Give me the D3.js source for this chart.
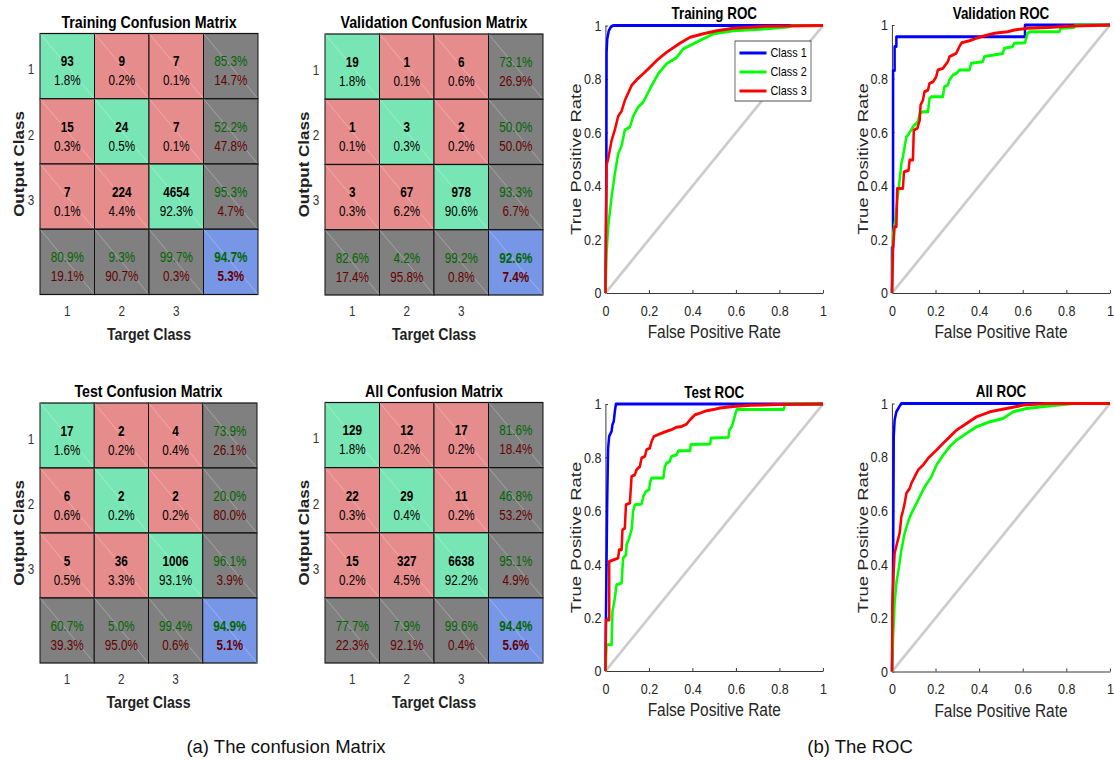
<!DOCTYPE html>
<html>
<head>
<meta charset="utf-8">
<script src="https://cdn.jsdelivr.net/npm/d3@7"></script>
<style>
body { margin: 0; background: #fff; }
text { font-family: "Liberation Sans", Arial, Helvetica, sans-serif; }
</style>
</head>
<body>
<svg id="chart" width="1114" height="760"></svg>
<script>
// ---- confusion matrices (counts, cell %, row stats, column stats, overall)
var classes = ["1", "2", "3"];

var trainCounts = [[93, 9, 7], [15, 24, 7], [7, 224, 4654]];
var trainPct = [[1.8, 0.2, 0.1], [0.3, 0.5, 0.1], [0.1, 4.4, 92.3]];
var trainRows = [[85.3, 14.7], [52.2, 47.8], [95.3, 4.7]];
var trainCols = [[80.9, 19.1], [9.3, 90.7], [99.7, 0.3]];
var trainAll = [94.7, 5.3];

var valCounts = [[19, 1, 6], [1, 3, 2], [3, 67, 978]];
var valPct = [[1.8, 0.1, 0.6], [0.1, 0.3, 0.2], [0.3, 6.2, 90.6]];
var valRows = [[73.1, 26.9], [50.0, 50.0], [93.3, 6.7]];
var valCols = [[82.6, 17.4], [4.2, 95.8], [99.2, 0.8]];
var valAll = [92.6, 7.4];

var testCounts = [[17, 2, 4], [6, 2, 2], [5, 36, 1006]];
var testPct = [[1.6, 0.2, 0.4], [0.6, 0.2, 0.2], [0.5, 3.3, 93.1]];
var testRows = [[73.9, 26.1], [20.0, 80.0], [96.1, 3.9]];
var testCols = [[60.7, 39.3], [5.0, 95.0], [99.4, 0.6]];
var testAll = [94.9, 5.1];

var allCounts = [[129, 12, 17], [22, 29, 11], [15, 327, 6638]];
var allPct = [[1.8, 0.2, 0.2], [0.3, 0.4, 0.2], [0.2, 4.5, 92.2]];
var allRows = [[81.6, 18.4], [46.8, 53.2], [95.1, 4.9]];
var allCols = [[77.7, 22.3], [7.9, 92.1], [99.6, 0.4]];
var allAll = [94.4, 5.6];

// ---- ROC curves, [false positive rate, true positive rate]
var rocTicks = [0, 0.2, 0.4, 0.6, 0.8, 1];
var legendNames = ["Class 1", "Class 2", "Class 3"];

var trainRoc1 = [[0,0],[0.004,0.45],[0.005,0.9],[0.008,0.95],[0.015,0.98],[0.025,0.995],[0.035,1],[1,1]];
var trainRoc2 = [[0,0],[0.005,0.147],[0.012,0.247],[0.028,0.36],[0.043,0.446],[0.058,0.52],[0.074,0.55],[0.089,0.61],[0.112,0.62],[0.127,0.66],[0.15,0.695],[0.174,0.714],[0.204,0.763],[0.243,0.82],[0.281,0.857],[0.327,0.88],[0.358,0.913],[0.419,0.938],[0.496,0.969],[0.588,0.98],[0.742,0.988],[0.834,0.994],[0.86,1],[1,1]];
var trainRoc3 = [[0,0],[0.003,0.3],[0.005,0.48],[0.012,0.5],[0.028,0.57],[0.043,0.61],[0.058,0.66],[0.074,0.68],[0.089,0.72],[0.12,0.776],[0.143,0.797],[0.174,0.82],[0.204,0.844],[0.243,0.875],[0.281,0.9],[0.343,0.934],[0.389,0.956],[0.45,0.969],[0.512,0.98],[0.588,0.99],[0.742,0.997],[1,1]];

var valRoc1 = [[0,0],[0,0.17],[0.005,0.17],[0.005,0.83],[0.012,0.83],[0.012,0.92],[0.02,0.92],[0.02,0.956],[0.61,0.956],[0.61,1],[1,1]];
var valRoc2 = [[0,0],[0.005,0.222],[0.015,0.271],[0.024,0.346],[0.035,0.421],[0.043,0.483],[0.05,0.508],[0.058,0.545],[0.066,0.583],[0.073,0.589],[0.088,0.608],[0.096,0.62],[0.119,0.639],[0.127,0.67],[0.142,0.676],[0.165,0.676],[0.172,0.726],[0.18,0.732],[0.233,0.732],[0.241,0.77],[0.256,0.776],[0.264,0.795],[0.279,0.813],[0.294,0.819],[0.309,0.832],[0.355,0.832],[0.363,0.857],[0.416,0.863],[0.424,0.882],[0.439,0.884],[0.508,0.894],[0.515,0.913],[0.553,0.919],[0.561,0.932],[0.61,0.934],[0.622,0.969],[0.63,0.975],[0.767,0.975],[0.774,0.988],[0.835,0.991],[0.843,1],[1,1]];
var valRoc3 = [[0,0],[0.005,0.172],[0.012,0.247],[0.02,0.247],[0.024,0.39],[0.05,0.39],[0.055,0.452],[0.076,0.458],[0.081,0.496],[0.096,0.496],[0.1,0.608],[0.116,0.614],[0.127,0.645],[0.131,0.701],[0.142,0.72],[0.149,0.751],[0.165,0.757],[0.172,0.782],[0.188,0.788],[0.203,0.807],[0.21,0.832],[0.233,0.838],[0.256,0.863],[0.264,0.882],[0.294,0.894],[0.309,0.919],[0.32,0.934],[0.355,0.941],[0.386,0.95],[0.409,0.956],[0.439,0.963],[0.47,0.969],[0.53,0.975],[0.561,0.981],[0.622,0.988],[0.713,0.991],[0.835,0.996],[1,1]];

var testRoc1 = [[0,0],[0.002,0.198],[0.008,0.648],[0.012,0.835],[0.017,0.879],[0.028,0.898],[0.032,0.923],[0.038,0.935],[0.043,0.973],[0.048,1],[1,1]];
var testRoc2 = [[0,0],[0.005,0.098],[0.028,0.098],[0.032,0.223],[0.038,0.248],[0.043,0.273],[0.051,0.323],[0.074,0.329],[0.081,0.423],[0.094,0.435],[0.097,0.473],[0.109,0.498],[0.12,0.529],[0.127,0.598],[0.135,0.623],[0.166,0.625],[0.174,0.654],[0.186,0.673],[0.201,0.679],[0.204,0.704],[0.212,0.723],[0.266,0.723],[0.273,0.766],[0.281,0.779],[0.296,0.785],[0.3,0.798],[0.304,0.804],[0.327,0.81],[0.335,0.825],[0.389,0.825],[0.392,0.848],[0.481,0.85],[0.485,0.873],[0.565,0.875],[0.57,0.904],[0.581,0.916],[0.588,0.935],[0.596,0.96],[0.604,0.979],[0.819,0.979],[0.826,1],[1,1]];
var testRoc3 = [[0,0],[0.002,0.191],[0.017,0.191],[0.017,0.41],[0.058,0.423],[0.063,0.454],[0.074,0.454],[0.078,0.529],[0.089,0.535],[0.094,0.623],[0.112,0.629],[0.12,0.729],[0.135,0.735],[0.143,0.754],[0.158,0.766],[0.166,0.798],[0.181,0.804],[0.189,0.829],[0.204,0.835],[0.212,0.86],[0.223,0.879],[0.25,0.888],[0.281,0.898],[0.304,0.904],[0.327,0.913],[0.35,0.916],[0.373,0.925],[0.389,0.941],[0.412,0.96],[0.435,0.966],[0.465,0.975],[0.496,0.979],[0.527,0.985],[0.588,0.991],[0.665,0.995],[0.788,0.998],[1,1]];

var allRoc1 = [[0,0],[0.005,0.38],[0.008,0.876],[0.012,0.938],[0.02,0.969],[0.035,0.99],[0.043,1],[1,1]];
var allRoc2 = [[0,0],[0.005,0.13],[0.012,0.255],[0.02,0.329],[0.032,0.391],[0.043,0.453],[0.058,0.516],[0.074,0.559],[0.089,0.59],[0.112,0.627],[0.135,0.665],[0.15,0.689],[0.181,0.727],[0.204,0.77],[0.234,0.807],[0.265,0.839],[0.295,0.863],[0.341,0.888],[0.387,0.913],[0.449,0.932],[0.51,0.944],[0.556,0.969],[0.617,0.981],[0.709,0.99],[0.832,1],[1,1]];
var allRoc3 = [[0,0],[0.002,0.255],[0.008,0.379],[0.012,0.441],[0.023,0.478],[0.035,0.516],[0.043,0.578],[0.051,0.602],[0.058,0.627],[0.066,0.665],[0.081,0.683],[0.089,0.702],[0.104,0.727],[0.12,0.752],[0.142,0.77],[0.165,0.795],[0.204,0.826],[0.234,0.851],[0.265,0.876],[0.295,0.9],[0.341,0.925],[0.387,0.95],[0.449,0.969],[0.525,0.981],[0.602,0.994],[0.709,1],[1,1]];

var rocColors = ["#0000ff", "#00ff00", "#ff0000"];

// the matlab figures were squeezed sideways when put in the paper
var SX = 0.836;
function X(v) { return v / SX; }

var svg = d3.select("#chart");
svg.append("rect").attr("width", 1114).attr("height", 760).attr("fill", "#fff");
var fig = svg.append("g").attr("transform", "scale(" + SX + ",1)");

var fills = { diag: "#78e6b4", off: "#e68c8c", stat: "#808080", total: "#7896e6" };
var pf = function(v) { return v.toFixed(1) + "%"; };

function drawCM(box, title, counts, pct, rows, cols, overall) {
	var g = fig.append("g");
	var xb = d3.scaleBand().domain([0, 1, 2, 3]).range([X(box.left), X(box.right)]);
	var yb = d3.scaleBand().domain([0, 1, 2, 3]).range([box.top, box.bottom]);

	var cells = [];
	for (var r = 0; r < 4; r++) {
		for (var c = 0; c < 4; c++) {
			if (r < 3 && c < 3)
				cells.push({ r: r, c: c, type: r == c ? "diag" : "off", a: String(counts[r][c]), b: pf(pct[r][c]) });
			else if (r == 3 && c == 3)
				cells.push({ r: r, c: c, type: "total", a: pf(overall[0]), b: pf(overall[1]) });
			else if (c == 3)
				cells.push({ r: r, c: c, type: "stat", a: pf(rows[r][0]), b: pf(rows[r][1]) });
			else
				cells.push({ r: r, c: c, type: "stat", a: pf(cols[c][0]), b: pf(cols[c][1]) });
		}
	}

	var cell = g.selectAll("g.cell").data(cells).enter().append("g").attr("class", "cell");

	cell.append("rect")
		.attr("x", function(d) { return xb(d.c); })
		.attr("y", function(d) { return yb(d.r); })
		.attr("width", xb.bandwidth())
		.attr("height", yb.bandwidth())
		.attr("fill", function(d) { return fills[d.type]; })
		.attr("stroke", "#111")
		.attr("stroke-width", 1.2);

	cell.append("line")
		.attr("x1", function(d) { return xb(d.c); })
		.attr("y1", function(d) { return yb(d.r); })
		.attr("x2", function(d) { return xb(d.c) + xb.bandwidth(); })
		.attr("y2", function(d) { return yb(d.r) + yb.bandwidth(); })
		.attr("stroke", "#fff")
		.attr("stroke-opacity", 0.45)
		.attr("stroke-width", 0.7);

	cell.append("text")
		.attr("x", function(d) { return xb(d.c) + xb.bandwidth() / 2; })
		.attr("y", function(d) { return yb(d.r) + 33; })
		.attr("text-anchor", "middle")
		.attr("font-size", 14)
		.attr("font-weight", function(d) { return d.type == "stat" ? "normal" : "bold"; })
		.attr("fill", function(d) { return d.type == "stat" || d.type == "total" ? "#006600" : "#000"; })
		.text(function(d) { return d.a; });

	cell.append("text")
		.attr("x", function(d) { return xb(d.c) + xb.bandwidth() / 2; })
		.attr("y", function(d) { return yb(d.r) + 52; })
		.attr("text-anchor", "middle")
		.attr("font-size", 14)
		.attr("font-weight", function(d) { return d.type == "total" ? "bold" : "normal"; })
		.attr("fill", function(d) { return d.type == "stat" || d.type == "total" ? "#660000" : "#000"; })
		.text(function(d) { return d.b; });

	// tick labels
	g.selectAll("text.rowlab").data(classes).enter().append("text")
		.attr("x", X(box.left - 9))
		.attr("y", function(d, i) { return yb(i) + 41; })
		.attr("text-anchor", "middle")
		.attr("font-size", 14)
		.attr("fill", "#333")
		.text(function(d) { return d; });

	g.selectAll("text.collab").data(classes).enter().append("text")
		.attr("x", function(d, i) { return xb(i) + xb.bandwidth() / 2; })
		.attr("y", box.bottom + 21.5)
		.attr("text-anchor", "middle")
		.attr("font-size", 14)
		.attr("fill", "#333")
		.text(function(d) { return d; });

	var cx = X((box.left + box.right) / 2);
	g.append("text").attr("x", cx).attr("y", box.top - 5.5)
		.attr("text-anchor", "middle").attr("font-size", 17).attr("font-weight", "bold")
		.text(title);
	g.append("text").attr("x", cx).attr("y", box.bottom + 45.5)
		.attr("text-anchor", "middle").attr("font-size", 17).attr("font-weight", "bold").attr("fill", "#222")
		.text("Target Class");
	g.append("text")
		.attr("transform", "translate(" + X(box.left - 16) + "," + ((box.top + box.bottom) / 2) + ") rotate(-90)")
		.attr("text-anchor", "middle").attr("font-size", 17).attr("font-weight", "bold").attr("fill", "#222")
		.text("Output Class");
}

function drawROC(box, title, curves, legend) {
	var g = fig.append("g");
	var x = d3.scaleLinear().domain([0, 1]).range([X(box.x0), X(box.x1)]);
	var y = d3.scaleLinear().domain([0, 1]).range([box.y0, box.y1]);
	var fmt = d3.format("~g");

	var ax = g.append("g").attr("transform", "translate(0," + box.y0 + ")")
		.call(d3.axisBottom(x).tickValues(rocTicks).tickFormat(fmt).tickSizeInner(-3).tickSizeOuter(0).tickPadding(12.3));
	var ay = g.append("g").attr("transform", "translate(" + X(box.x0) + ",0)")
		.call(d3.axisLeft(y).tickValues(rocTicks).tickFormat(fmt).tickSizeInner(-3).tickSizeOuter(0).tickPadding(X(4)));
	[ax, ay].forEach(function(a) {
		a.select(".domain").attr("stroke", "#262626");
		a.selectAll(".tick line").attr("stroke", "#262626");
		a.selectAll(".tick text").attr("font-size", 15).attr("fill", "#262626")
			.attr("font-family", "'Liberation Sans', Arial, sans-serif");
	});

	g.append("line")
		.attr("x1", x(0)).attr("y1", y(0)).attr("x2", x(1)).attr("y2", y(1))
		.attr("stroke", "#cccccc").attr("stroke-width", 3);

	var line = d3.line().x(function(d) { return x(d[0]); }).y(function(d) { return y(d[1]); });
	g.selectAll("path.roc").data(curves).enter().append("path")
		.attr("class", "roc")
		.attr("d", line)
		.attr("fill", "none")
		.attr("stroke", function(d, i) { return rocColors[i]; })
		.attr("stroke-width", 3)
		.attr("stroke-linejoin", "round");

	g.append("text").attr("x", X((box.x0 + box.x1) / 2)).attr("y", box.y1 - 6)
		.attr("text-anchor", "middle").attr("font-size", 16).attr("font-weight", "bold")
		.text(title);
	g.append("text").attr("x", X((box.x0 + box.x1) / 2)).attr("y", box.y0 + 45.5)
		.attr("text-anchor", "middle").attr("font-size", 18.5).attr("fill", "#262626")
		.text("False Positive Rate");
	g.append("text")
		.attr("transform", "translate(" + X(box.x0 - 24.5) + "," + ((box.y0 + box.y1) / 2) + ") rotate(-90)")
		.attr("text-anchor", "middle").attr("font-size", 18.5).attr("fill", "#262626")
		.text("True Positive Rate");

	if (legend) {
		var lg = g.append("g");
		lg.append("rect")
			.attr("x", X(735)).attr("y", 41).attr("width", X(811) - X(735)).attr("height", 60)
			.attr("fill", "#fff").attr("stroke", "#262626").attr("stroke-width", 0.8);
		var item = lg.selectAll("g.item").data(legendNames).enter().append("g");
		item.append("line")
			.attr("x1", X(739.5)).attr("x2", X(766.5))
			.attr("y1", function(d, i) { return 53 + i * 19; })
			.attr("y2", function(d, i) { return 53 + i * 19; })
			.attr("stroke", function(d, i) { return rocColors[i]; })
			.attr("stroke-width", 3);
		item.append("text")
			.attr("x", X(770.5))
			.attr("y", function(d, i) { return 57.5 + i * 19; })
			.attr("font-size", 13).attr("fill", "#000")
			.text(function(d) { return d; });
	}
}

drawCM({ left: 40, right: 258, top: 33.5, bottom: 294.5 }, "Training Confusion Matrix", trainCounts, trainPct, trainRows, trainCols, trainAll);
drawCM({ left: 325, right: 543, top: 34, bottom: 295 }, "Validation Confusion Matrix", valCounts, valPct, valRows, valCols, valAll);
drawCM({ left: 40, right: 257, top: 403, bottom: 663 }, "Test Confusion Matrix", testCounts, testPct, testRows, testCols, testAll);
drawCM({ left: 325, right: 543, top: 402.5, bottom: 663 }, "All Confusion Matrix", allCounts, allPct, allRows, allCols, allAll);

drawROC({ x0: 605.5, x1: 823, y0: 293, y1: 25.5 }, "Training ROC", [trainRoc1, trainRoc2, trainRoc3], true);
drawROC({ x0: 892, x1: 1110, y0: 293, y1: 25 }, "Validation ROC", [valRoc1, valRoc2, valRoc3], false);
drawROC({ x0: 605.5, x1: 823, y0: 671, y1: 404 }, "Test ROC", [testRoc1, testRoc2, testRoc3], false);
drawROC({ x0: 892, x1: 1110, y0: 671.5, y1: 403.5 }, "All ROC", [allRoc1, allRoc2, allRoc3], false);

// captions (not squeezed)
svg.append("text").attr("x", 286).attr("y", 753).attr("text-anchor", "middle")
	.attr("font-size", 18.5).attr("fill", "#111").text("(a) The confusion Matrix");
svg.append("text").attr("x", 860).attr("y", 753).attr("text-anchor", "middle")
	.attr("font-size", 18.5).attr("fill", "#111").text("(b) The ROC");
</script>
</body>
</html>
